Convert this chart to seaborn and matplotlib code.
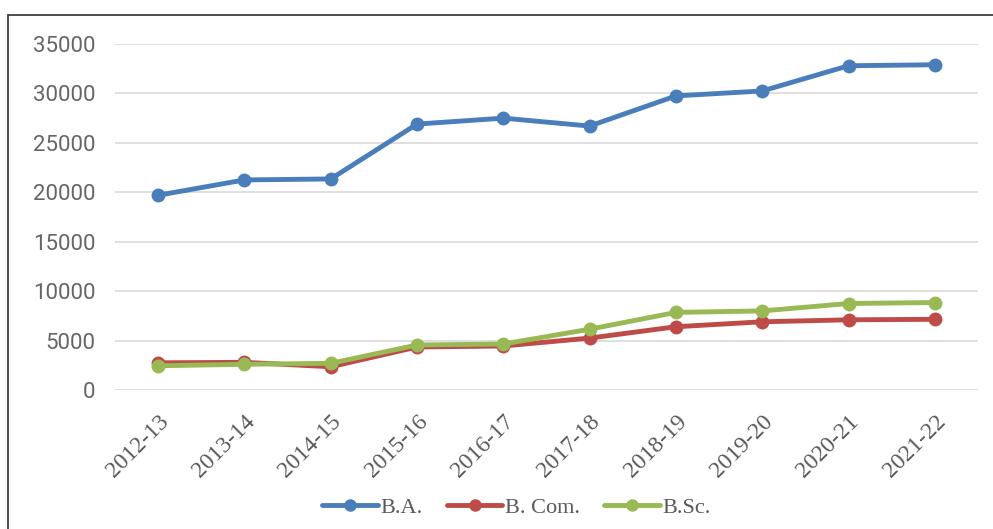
import matplotlib
matplotlib.use('Agg')
import matplotlib.pyplot as plt
from matplotlib.lines import Line2D
import seaborn as sns
import pandas as pd

# values
years = ['2012-13', '2013-14', '2014-15', '2015-16', '2016-17',
         '2017-18', '2018-19', '2019-20', '2020-21', '2021-22']
ba = [19700, 21250, 21350, 26900, 27500, 26700, 29750, 30250, 32800, 32900]
bcom = [2750, 2800, 2350, 4350, 4450, 5250, 6400, 6900, 7100, 7150]
bsc = [2450, 2600, 2700, 4550, 4650, 6150, 7850, 8000, 8750, 8850]

series = {'B.A.': ba, 'B. Com.': bcom, 'B.Sc.': bsc}
colors = {'B.A.': '#4A7EBB', 'B. Com.': '#BE4B48', 'B.Sc.': '#98B954'}

rows = []
for name, vals in series.items():
    for i, v in enumerate(vals):
        rows.append({'year': years[i], 'course': name, 'value': v})
df = pd.DataFrame(rows)
df['pos'] = df['year'].map({y: i for i, y in enumerate(years)})

sns.set_style('white')

fig = plt.figure(figsize=(9.93, 5.29), dpi=100)
ax = fig.add_axes([115 / 993, 1 - 390 / 529, 863 / 993, 346 / 529])

sns.lineplot(data=df, x='pos', y='value', hue='course', palette=colors,
             marker='o', markersize=10, markeredgewidth=0, linewidth=3.5,
             ax=ax, legend=False)

ax.set_xlim(-0.5, 9.5)
ax.set_ylim(0, 35000)
ax.set_yticks(range(0, 35001, 5000))
ax.set_xticks(range(len(years)))
ax.set_xticklabels(years, rotation=45, ha='right', rotation_mode='anchor',
                   family='Liberation Serif', fontsize=17, color='#595959')
for lab in ax.get_yticklabels():
    lab.set_family('Roboto')
    lab.set_fontsize(16)
    lab.set_color('#666666')
ax.tick_params(axis='y', length=0, pad=14)
ax.tick_params(axis='x', length=0, pad=15)
ax.grid(axis='y', color='#D9D9D9', linewidth=1.2)
ax.set_axisbelow(True)
sns.despine(ax=ax, left=True, bottom=True)
ax.set_xlabel('')
ax.set_ylabel('')

handles = [Line2D([], [], color=colors[k], lw=3.5, marker='o', markersize=9,
                  markeredgewidth=0)
           for k in series]
fig.legend(handles, list(series), loc='center', bbox_to_anchor=(0.52, 1 - 508 / 529),
           ncol=3, frameon=False, handlelength=2.5, handletextpad=0.1,
           columnspacing=1.1, prop={'family': 'Liberation Serif', 'size': 16},
           labelcolor='#595959')

# outer frame lines, like the cropped chart border
fig.add_artist(Line2D([8 / 993, 8 / 993], [0, 1 - 15 / 529],
                      transform=fig.transFigure, color='#404040', lw=1.3))
fig.add_artist(Line2D([8 / 993, 1], [1 - 15 / 529, 1 - 15 / 529],
                      transform=fig.transFigure, color='#404040', lw=1.3))

fig.savefig('out.png', dpi=100)
